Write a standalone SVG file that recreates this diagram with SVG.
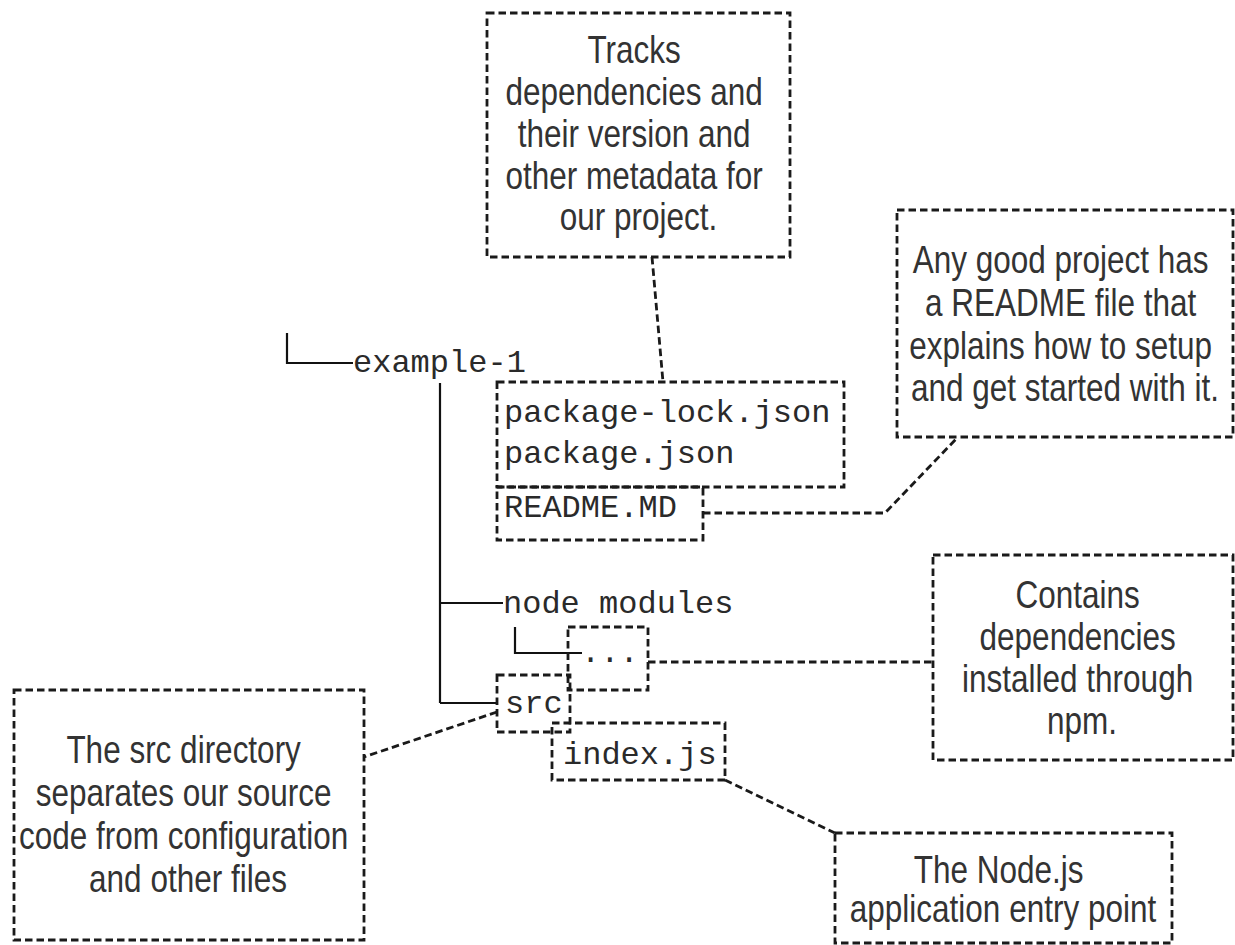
<svg xmlns="http://www.w3.org/2000/svg" width="1235" height="945" viewBox="0 0 1235 945">
  <style>
    .box { fill: none; stroke: #1a1a1a; stroke-width: 2.8; stroke-dasharray: 7.5 4; }
    .link { fill: none; stroke: #1a1a1a; stroke-width: 2.8; stroke-dasharray: 7.5 4; }
    .tree { fill: none; stroke: #111; stroke-width: 2.2; }
    .note { font-family: "Liberation Sans", Arial, sans-serif; font-size: 31.5px; fill: #333; text-anchor: middle; }
    .mono { font-family: "Liberation Mono", "Courier New", monospace; font-size: 32px; fill: #2a2a2a; }
  </style>
  <rect width="1235" height="945" fill="#fff"/>

  <!-- solid directory tree lines -->
  <g id="tree">
    <path class="tree" d="M287 333 V363 H353"/>
    <path class="tree" d="M440 383 V703 M440 603 H503 M440 703 H497"/>
    <path class="tree" d="M515 627 V653 H582"/>
  </g>

  <!-- dashed callout connectors -->
  <g id="connectors">
    <path class="link" d="M652 257 L663 382"/>
    <path class="link" d="M703 513 H885 L958 437"/>
    <path class="link" d="M648 662 H933"/>
    <path class="link" d="M497 712 L364 757"/>
    <path class="link" d="M725 780 L835 833"/>
  </g>

  <!-- folder / file entries -->
  <g id="example-1">
    <text class="mono" x="353" y="372">example-1</text>
  </g>
  <g id="package-files">
    <rect class="box" x="497" y="382" width="347" height="105"/>
    <text class="mono" x="504" y="422">package-lock.json</text>
    <text class="mono" x="504" y="463">package.json</text>
  </g>
  <g id="readme-file">
    <rect class="box" x="497" y="487" width="206" height="53"/>
    <text class="mono" x="504" y="517">README.MD</text>
  </g>
  <g id="node-modules">
    <text class="mono" x="503" y="613">node modules</text>
  </g>
  <g id="modules-content">
    <rect class="box" x="568" y="627" width="80" height="63"/>
    <text class="mono" x="581" y="662">...</text>
  </g>
  <g id="src">
    <rect class="box" x="497" y="675" width="73" height="57"/>
    <text class="mono" x="505" y="713">src</text>
  </g>
  <g id="index-js">
    <rect class="box" x="552" y="723" width="173" height="57"/>
    <text class="mono" x="563" y="764">index.js</text>
  </g>

  <!-- explanatory notes -->
  <g id="note-package">
    <rect class="box" x="487" y="13" width="303" height="244"/>
    <text class="note" transform="translate(638.5 63) scale(1 1.22)">
      <tspan x="0" y="0">Tracks</tspan>
      <tspan x="0" y="34.4">dependencies and</tspan>
      <tspan x="0" y="68.9">their version and</tspan>
      <tspan x="0" y="103.3">other metadata for</tspan>
      <tspan x="0" y="137">our project.</tspan>
    </text>
  </g>
  <g id="note-readme">
    <rect class="box" x="897" y="210" width="336" height="227"/>
    <text class="note" transform="translate(1065 273) scale(1 1.22)">
      <tspan x="0" y="0">Any good project has</tspan>
      <tspan x="0" y="35.2">a README file that</tspan>
      <tspan x="0" y="70.5">explains how to setup</tspan>
      <tspan x="0" y="104.9">and get started with it.</tspan>
    </text>
  </g>
  <g id="note-modules">
    <rect class="box" x="933" y="555" width="300" height="205"/>
    <text class="note" transform="translate(1082 608) scale(1 1.22)">
      <tspan x="0" y="0">Contains</tspan>
      <tspan x="0" y="34.4">dependencies</tspan>
      <tspan x="0" y="68.9">installed through</tspan>
      <tspan x="0" y="103.3">npm.</tspan>
    </text>
  </g>
  <g id="note-src">
    <rect class="box" x="14" y="690" width="350" height="250"/>
    <text class="note" transform="translate(188 763) scale(1 1.22)">
      <tspan x="0" y="0">The src directory</tspan>
      <tspan x="0" y="35.2">separates our source</tspan>
      <tspan x="0" y="70.5">code from configuration</tspan>
      <tspan x="0" y="105.7">and other files</tspan>
    </text>
  </g>
  <g id="note-index">
    <rect class="box" x="835" y="833" width="337" height="110"/>
    <text class="note" transform="translate(1003 883) scale(1 1.22)">
      <tspan x="0" y="0">The Node.js</tspan>
      <tspan x="0" y="32">application entry point</tspan>
    </text>
  </g>
</svg>
